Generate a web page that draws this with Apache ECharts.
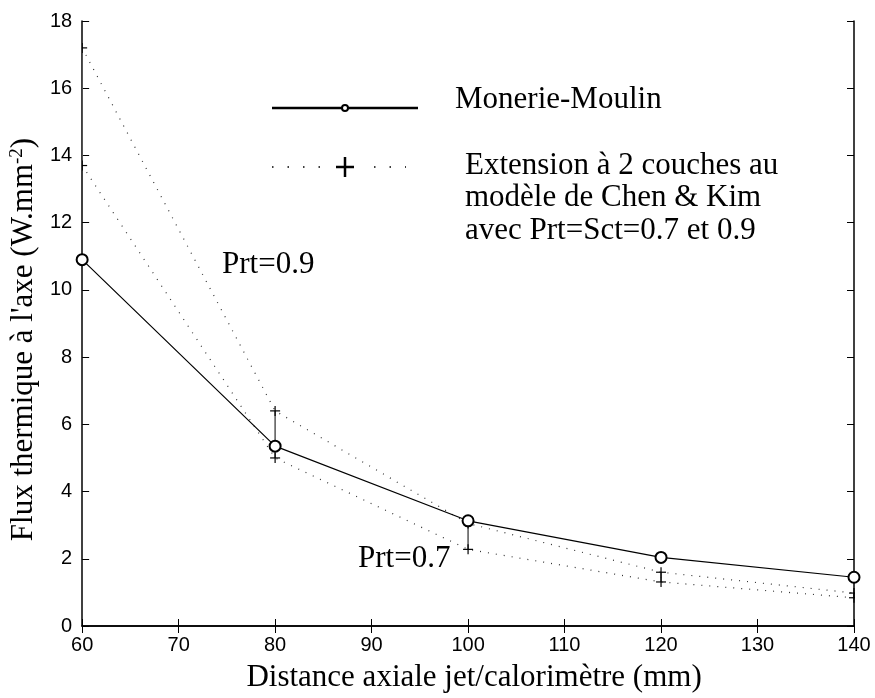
<!DOCTYPE html>
<html><head><meta charset="utf-8">
<script src="https://cdn.jsdelivr.net/npm/echarts@6/dist/echarts.min.js"></script>
<style>html,body{margin:0;padding:0;background:#fff}#c{width:875px;height:698px}</style>
</head><body><div id="c"></div>
<script>
// ---- data ----
const xValues = [60, 80, 100, 120, 140];
const monerieMoulin = [10.9, 5.35, 3.13, 2.04, 1.45];
const prt09 = [17.2, 6.4, 3.05, 1.6, 0.98];
const prt07 = [13.7, 5.0, 2.28, 1.31, 0.84];
const xAxisRange = [60, 140, 10];
const yAxisRange = [0, 18, 2];

const SERIF = '"Liberation Serif", "Times New Roman", serif';
const SANS = '"Liberation Sans", Arial, sans-serif';

const pairs = (arr) => xValues.map((x, i) => [x, arr[i]]);
const bars = xValues.map((x, i) => [x, prt07[i], prt09[i]]);

const axisLineStyle = { show: true, lineStyle: { color: '#000', width: 1.5 } };
const tickStyle = { show: true, inside: true, length: 7, lineStyle: { color: '#000', width: 1 } };

const chart = echarts.init(document.getElementById('c'), null, { renderer: 'canvas' });
chart.setOption({
  animation: false,
  backgroundColor: '#fff',
  grid: { left: 82, right: 21, top: 21, bottom: 68, containLabel: false },
  xAxis: [{
    type: 'value', min: xAxisRange[0], max: xAxisRange[1], interval: xAxisRange[2], position: 'bottom',
    axisLine: axisLineStyle, axisTick: tickStyle, splitLine: { show: false },
    axisLabel: { color: '#000', fontFamily: SANS, fontSize: 20, margin: 9 },
    name: 'Distance axiale jet/calorimètre (mm)', nameLocation: 'middle', nameGap: 36,
    nameTextStyle: { color: '#000', fontFamily: SERIF, fontSize: 31, padding: [0, 0, 0, 12] }
  }, {
    type: 'value', min: xAxisRange[0], max: xAxisRange[1], interval: xAxisRange[2], position: 'top',
    axisLine: axisLineStyle, axisTick: tickStyle, splitLine: { show: false }, axisLabel: { show: false }
  }],
  yAxis: [{
    type: 'value', min: yAxisRange[0], max: yAxisRange[1], interval: yAxisRange[2], position: 'left',
    axisLine: axisLineStyle, axisTick: tickStyle, splitLine: { show: false },
    axisLabel: { color: '#000', fontFamily: SANS, fontSize: 20, margin: 10 },
    name: "Flux thermique à l'axe (W.mm{sup|-2})", nameLocation: 'middle', nameGap: 42,
    nameTextStyle: {
      color: '#000', fontFamily: SERIF, fontSize: 31, padding: [0, 32, 0, 0],
      rich: { sup: { fontFamily: SERIF, fontSize: 19, color: '#000', verticalAlign: 'top' } }
    }
  }, {
    type: 'value', min: yAxisRange[0], max: yAxisRange[1], interval: yAxisRange[2], position: 'right',
    axisLine: axisLineStyle, axisTick: tickStyle, splitLine: { show: false }, axisLabel: { show: false }
  }],
  series: [{
    name: 'Prt=0.9', type: 'line', data: pairs(prt09), symbol: 'none',
    lineStyle: { color: '#333', width: 1.2, type: [1, 7] }, z: 2
  }, {
    name: 'Prt=0.7', type: 'line', data: pairs(prt07), symbol: 'none',
    lineStyle: { color: '#333', width: 1.2, type: [1, 7] }, z: 2
  }, {
    name: 'bars', type: 'custom', data: bars, clip: true, z: 3,
    renderItem: function (params, api) {
      const x = api.value(0), lo = api.value(1), hi = api.value(2);
      const a = api.coord([x, lo]), b = api.coord([x, hi]);
      const s = 5;
      const st = { stroke: '#000', lineWidth: 1.2 };
      return {
        type: 'group', children: [
          { type: 'line', shape: { x1: a[0], y1: a[1], x2: b[0], y2: b[1] }, style: { stroke: '#555', lineWidth: 1.5 } },
          { type: 'line', shape: { x1: a[0] - s, y1: a[1], x2: a[0] + s, y2: a[1] }, style: st },
          { type: 'line', shape: { x1: a[0], y1: a[1] - s, x2: a[0], y2: a[1] + s }, style: st },
          { type: 'line', shape: { x1: b[0] - s, y1: b[1], x2: b[0] + s, y2: b[1] }, style: st },
          { type: 'line', shape: { x1: b[0], y1: b[1] - s, x2: b[0], y2: b[1] + s }, style: st }
        ]
      };
    }
  }, {
    name: 'Monerie-Moulin', type: 'line', data: pairs(monerieMoulin), clip: false,
    symbol: 'emptyCircle', symbolSize: 11,
    lineStyle: { color: '#000', width: 1.2 },
    itemStyle: { color: '#000', borderColor: '#000', borderWidth: 1 }, z: 4
  }],
  graphic: [
    { type: 'line', shape: { x1: 272, y1: 108, x2: 418, y2: 108 }, style: { stroke: '#000', lineWidth: 2.5 } },
    { type: 'circle', shape: { cx: 345, cy: 108, r: 3 }, style: { fill: '#fff', stroke: '#000', lineWidth: 2 } },
    { type: 'text', x: 455, y: 100, style: { text: 'Monerie-Moulin', font: '31px ' + SERIF, fill: '#000', textVerticalAlign: 'middle' } },
    { type: 'line', shape: { x1: 272, y1: 167, x2: 324, y2: 167 }, style: { stroke: '#000', lineWidth: 1.5, lineDash: [1.5, 14] } },
    { type: 'line', shape: { x1: 374, y1: 167, x2: 406, y2: 167 }, style: { stroke: '#000', lineWidth: 1.5, lineDash: [1.5, 14] } },
    { type: 'line', shape: { x1: 336, y1: 167, x2: 354, y2: 167 }, style: { stroke: '#000', lineWidth: 2.5 } },
    { type: 'line', shape: { x1: 345, y1: 157, x2: 345, y2: 177 }, style: { stroke: '#000', lineWidth: 2.5 } },
    { type: 'text', x: 465, y: 166, style: { text: 'Extension à 2 couches au', font: '31px ' + SERIF, fill: '#000', textVerticalAlign: 'middle' } },
    { type: 'text', x: 465, y: 198, style: { text: 'modèle de Chen & Kim', font: '31px ' + SERIF, fill: '#000', textVerticalAlign: 'middle' } },
    { type: 'text', x: 465, y: 231, style: { text: 'avec Prt=Sct=0.7 et 0.9', font: '31px ' + SERIF, fill: '#000', textVerticalAlign: 'middle' } },
    { type: 'text', x: 222, y: 265, style: { text: 'Prt=0.9', font: '31px ' + SERIF, fill: '#000', textVerticalAlign: 'middle' } },
    { type: 'text', x: 358, y: 559, style: { text: 'Prt=0.7', font: '31px ' + SERIF, fill: '#000', textVerticalAlign: 'middle' } }
  ]
});
</script>
</body></html>
